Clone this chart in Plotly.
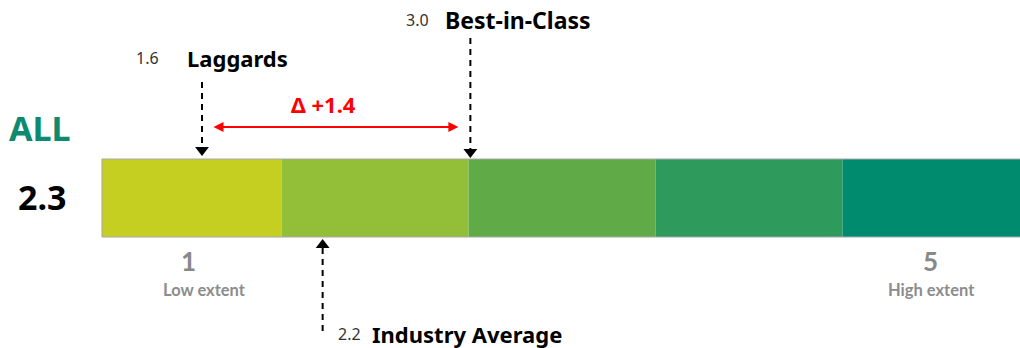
import plotly.graph_objects as go

# ---- data ----
segment_levels = [1, 2, 3, 4, 5]
segment_edges = [0.54, 1.5, 2.5, 3.5, 4.5, 5.5]
segment_colors = ["#C4CF22", "#93BE38", "#60AB48", "#2E9A5B", "#008A6E"]

overall_label = "ALL"
overall_score = 2.3

marker_names = ["Laggards", "Industry Average", "Best-in-Class"]
marker_values = [1.6, 2.2, 3.0]
marker_scale_pos = [1.075, 1.72, 2.51]   # where each arrow points on the scale
marker_side = ["above", "below", "above"]

delta_text = "Δ +1.4"
scale_ticks = [1, 5]
scale_tick_labels = ["Low extent", "High extent"]

# ---- geometry helpers (pixel layout) ----
W, H = 1020, 348
X0 = 1 - 188 / 187
X1 = 1 + (W - 188) / 187

BAR_TOP, BAR_BOT = 159, 237
FONT = "Noto Sans"

fig = go.Figure()

# bar segments
fig.add_trace(go.Bar(
    orientation="h",
    y=[(BAR_TOP + BAR_BOT) / 2] * len(segment_levels),
    base=segment_edges[:-1],
    x=[segment_edges[i + 1] - segment_edges[i] for i in range(len(segment_levels))],
    width=BAR_BOT - BAR_TOP,
    marker=dict(color=segment_colors, line=dict(width=0)),
    hoverinfo="skip",
    showlegend=False,
))
# thin grey border
for yy in (BAR_TOP, BAR_BOT):
    fig.add_shape(type="line", x0=segment_edges[0], x1=segment_edges[-1], y0=yy, y1=yy,
                  xref="x", yref="y", line=dict(color="#A8A8A8", width=1))
fig.add_shape(type="line", x0=segment_edges[0], x1=segment_edges[0], y0=BAR_TOP, y1=BAR_BOT,
              xref="x", yref="y", line=dict(color="#A8A8A8", width=1))

annotations = []

layout_info = {
    "Laggards": dict(y_start=82, tip=155, label_y=58, num_right=161, name_left=185),
    "Best-in-Class": dict(y_start=38, tip=157, label_y=20, num_right=431, name_left=443),
    "Industry Average": dict(y_start=331, tip=240, label_y=334, num_right=363, name_left=370),
}

for name, val, pos, side in zip(marker_names, marker_values, marker_scale_pos, marker_side):
    L = layout_info[name]
    tip = L["tip"]
    if side == "above":
        head_y, line_end, sym = tip - 5, tip - 8, "triangle-down"
    else:
        head_y, line_end, sym = tip + 5, tip + 8, "triangle-up"
    fig.add_trace(go.Scatter(
        x=[pos, pos], y=[L["y_start"], line_end], mode="lines",
        line=dict(color="black", width=2, dash="6px,5px"),
        hoverinfo="skip", showlegend=False))
    fig.add_trace(go.Scatter(
        x=[pos], y=[head_y], mode="markers",
        marker=dict(symbol=sym, size=12, color="black", line=dict(width=0)),
        hoverinfo="skip", showlegend=False))
    annotations.append(dict(x=L["num_right"] / W, y=L["label_y"], xref="paper", yref="y",
                            text=f"{val:.1f}", showarrow=False, xanchor="right", yanchor="middle",
                            font=dict(family=FONT, size=16, color="#333333")))
    annotations.append(dict(x=L["name_left"] / W, y=L["label_y"], xref="paper", yref="y",
                            text=f"<b>{name}</b>", showarrow=False, xanchor="left", yanchor="middle",
                            font=dict(family=FONT, size=23 if name == "Best-in-Class" else 22,
                                      color="black")))

# delta double arrow between laggards and best-in-class
lag_pos = marker_scale_pos[0]
bic_pos = marker_scale_pos[2]
annotations.append(dict(x=bic_pos - 12 / 187, y=127, ax=lag_pos + 10 / 187, ay=127,
                        xref="x", yref="y", axref="x", ayref="y",
                        text="", showarrow=True, arrowhead=2, startarrowhead=2,
                        arrowside="end+start", arrowsize=1, startarrowsize=1,
                        arrowwidth=2, arrowcolor="#FF0000"))
annotations.append(dict(x=323 / W, y=104, xref="paper", yref="y", xanchor="center",
                        yanchor="middle", text=f"<b>{delta_text}</b>", showarrow=False,
                        font=dict(family=FONT, size=22, color="#FF0000")))

# overall label and score
annotations.append(dict(x=40 / W, y=128, xref="paper", yref="y", xanchor="center",
                        yanchor="middle", text=f"<b>{overall_label}</b>",
                        showarrow=False, font=dict(family=FONT, size=34, color="#0E8A6E")))
annotations.append(dict(x=42 / W, y=197, xref="paper", yref="y", xanchor="center",
                        yanchor="middle", text=f"<b>{overall_score}</b>",
                        showarrow=False, font=dict(family=FONT, size=34, color="black")))

# scale tick labels
tick_x = [188, 930]
tick_sub_x = [204, 931]
for t, lab, tx, sx in zip(scale_ticks, scale_tick_labels, tick_x, tick_sub_x):
    annotations.append(dict(x=tx / W, y=261, xref="paper", yref="y", xanchor="center",
                            yanchor="middle", text=f"<b>{t}</b>", showarrow=False,
                            font=dict(family="Lato", size=26, color="#888888")))
    annotations.append(dict(x=sx / W, y=290, xref="paper", yref="y", xanchor="center",
                            yanchor="middle", text=f"<b>{lab}</b>", showarrow=False,
                            font=dict(family="Lato", size=16.5, color="#8C8C8C")))

fig.update_layout(
    width=W, height=H,
    margin=dict(l=0, r=0, t=0, b=0),
    paper_bgcolor="white", plot_bgcolor="white",
    xaxis=dict(range=[X0, X1], visible=False, fixedrange=True),
    yaxis=dict(range=[H, 0], visible=False, fixedrange=True),
    annotations=annotations,
    showlegend=False,
    barmode="overlay",
)

fig.write_html("out.html")
